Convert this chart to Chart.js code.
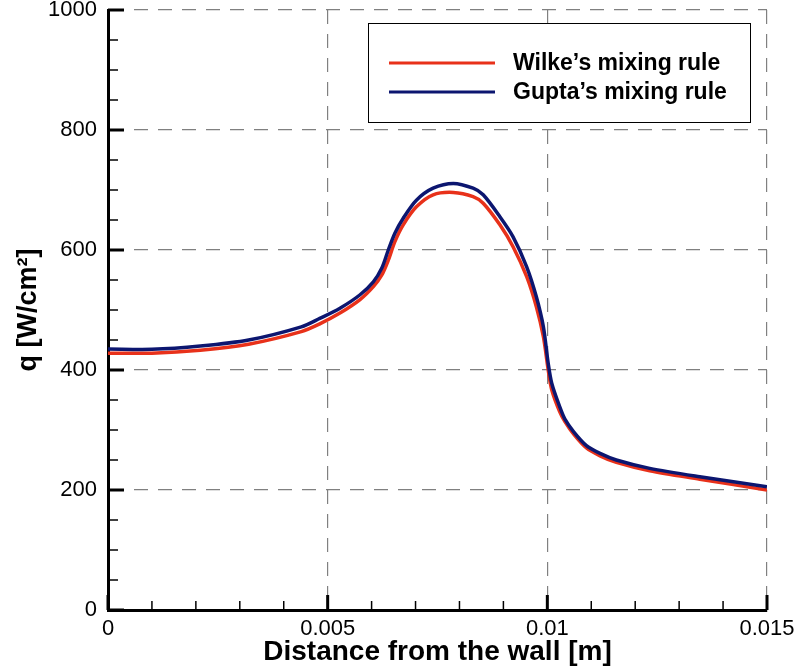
<!DOCTYPE html>
<html>
<head>
<meta charset="utf-8">
<script src="https://cdn.jsdelivr.net/npm/chart.js@4"></script>
<style>
  html, body { margin: 0; padding: 0; background: #fff; }
  #wrap { width: 801px; height: 672px; }
</style>
</head>
<body>
<div id="wrap"><canvas id="chart" width="801" height="672"></canvas></div>
<script>
// distance from the wall [m]
const distance = [0, 0.001, 0.0021, 0.0032, 0.0044, 0.00482, 0.00528, 0.00573, 0.00604, 0.00623,
  0.00638, 0.00653, 0.00672, 0.00702, 0.0074, 0.00786, 0.00831, 0.00854, 0.00892, 0.00922,
  0.00953, 0.00975, 0.00991, 0.01002, 0.0101, 0.01028, 0.0104, 0.0106, 0.01089, 0.0112,
  0.01157, 0.01233, 0.01347, 0.015];

// heat flux q [W/cm2]
const wilke = [428, 428, 433, 443, 464, 477, 495, 517, 539, 558,
  583, 614, 642, 672, 692, 696, 689, 678, 642, 605.5,
  555.5, 505.5, 455.5, 400, 367, 330.5, 314, 293, 270, 257,
  246, 232, 218, 200];
const gupta = [435, 434.5, 440, 450, 472, 486, 503, 525, 547, 569.5,
  600, 628, 653, 683, 703, 711, 703, 692, 655.5, 622,
  572, 522, 472, 411, 378, 339, 318, 297, 274, 261,
  250, 236, 222, 205.5];

const seriesNames = ['Wilke\u2019s mixing rule', 'Gupta\u2019s mixing rule'];
const xTicks = [0, 0.005, 0.01, 0.015];
const yTicks = [0, 200, 400, 600, 800, 1000];

const FONT = '"Liberation Sans", Arial, Helvetica, sans-serif';

const pts = (ys) => distance.map((x, i) => ({ x: x, y: ys[i] }));

// inward major/minor ticks like the original plot, plus the boxed legend
const tecplotDecor = {
  id: 'tecplotDecor',
  afterDraw(chart) {
    const { ctx, chartArea: a, scales: { x, y } } = chart;
    ctx.save();
    ctx.strokeStyle = '#000';
    // y ticks
    for (let v = 0; v <= 1000; v += 50) {
      const py = y.getPixelForValue(v);
      const major = v % 200 === 0;
      ctx.lineWidth = major ? 3 : 1.5;
      ctx.beginPath();
      ctx.moveTo(a.left, py);
      ctx.lineTo(a.left + (major ? 16 : 10), py);
      ctx.stroke();
    }
    // x ticks
    for (let k = 0; k <= 15; k++) {
      const px = x.getPixelForValue(k * 0.001);
      const major = k % 5 === 0;
      ctx.lineWidth = major ? 3 : 1.5;
      ctx.beginPath();
      ctx.moveTo(px, a.bottom);
      ctx.lineTo(px, a.bottom - (major ? 15 : 9));
      ctx.stroke();
    }

    // legend
    const bx = a.left + 260, by = a.top + 13, bw = 382, bh = 99;
    ctx.fillStyle = '#fff';
    ctx.fillRect(bx, by, bw, bh);
    ctx.lineWidth = 1;
    ctx.strokeStyle = '#000';
    ctx.strokeRect(bx + 0.5, by + 0.5, bw, bh);
    ctx.font = 'bold 23px ' + FONT;
    ctx.textBaseline = 'middle';
    chart.data.datasets.forEach((ds, i) => {
      const ly = by + 40 + i * 29;
      ctx.strokeStyle = ds.borderColor;
      ctx.lineWidth = 3;
      ctx.beginPath();
      ctx.moveTo(bx + 21, ly);
      ctx.lineTo(bx + 127, ly);
      ctx.stroke();
      ctx.fillStyle = '#000';
      ctx.fillText(ds.label, bx + 145, ly + 1);
    });
    ctx.restore();
  }
};

new Chart(document.getElementById('chart'), {
  type: 'line',
  data: {
    datasets: [
      {
        label: seriesNames[0],
        data: pts(wilke),
        borderColor: '#e8311a',
        borderWidth: 3.5,
        pointRadius: 0,
        tension: 0.3,
        order: 1
      },
      {
        label: seriesNames[1],
        data: pts(gupta),
        borderColor: '#0c1670',
        borderWidth: 3.5,
        pointRadius: 0,
        tension: 0.3,
        order: 0
      }
    ]
  },
  options: {
    responsive: false,
    animation: false,
    devicePixelRatio: 1,
    layout: { padding: { left: 0, top: 10, right: 34, bottom: 0 } },
    plugins: {
      legend: { display: false },
      tooltip: { enabled: false }
    },
    scales: {
      x: {
        type: 'linear',
        min: 0,
        max: 0.015,
        afterFit: (s) => { s.height = 62; },
        afterBuildTicks: (s) => { s.ticks = xTicks.map(v => ({ value: v })); },
        grid: {
          drawTicks: false,
          color: '#808080',
          lineWidth: 1.2
        },
        border: { display: true, color: '#000', width: 3, dash: [14, 10] },
        ticks: {
          padding: 6,
          color: '#000',
          font: { family: FONT, size: 22 },
          callback: (v) => String(Number(v.toFixed(4)))
        },
        title: {
          display: true,
          text: 'Distance from the wall [m]',
          color: '#000',
          font: { family: FONT, size: 28, weight: 'bold' },
          padding: { top: 0, bottom: 3 }
        }
      },
      y: {
        min: 0,
        max: 1000,
        afterFit: (s) => { s.width = 108; s.paddingTop = 0; s.paddingBottom = 0; },
        afterBuildTicks: (s) => { s.ticks = yTicks.map(v => ({ value: v })); },
        grid: {
          drawTicks: false,
          color: '#808080',
          lineWidth: 1.2
        },
        border: { display: true, color: '#000', width: 3, dash: [14, 10] },
        ticks: {
          padding: 11,
          color: '#000',
          font: { family: FONT, size: 22 },
          callback: (v) => String(v)
        },
        title: {
          display: true,
          text: 'q [W/cm\u00b2]',
          color: '#000',
          font: { family: FONT, size: 27, weight: 'bold' },
          padding: { top: 12, bottom: 0 }
        }
      }
    }
  },
  plugins: [tecplotDecor]
});
</script>
</body>
</html>
